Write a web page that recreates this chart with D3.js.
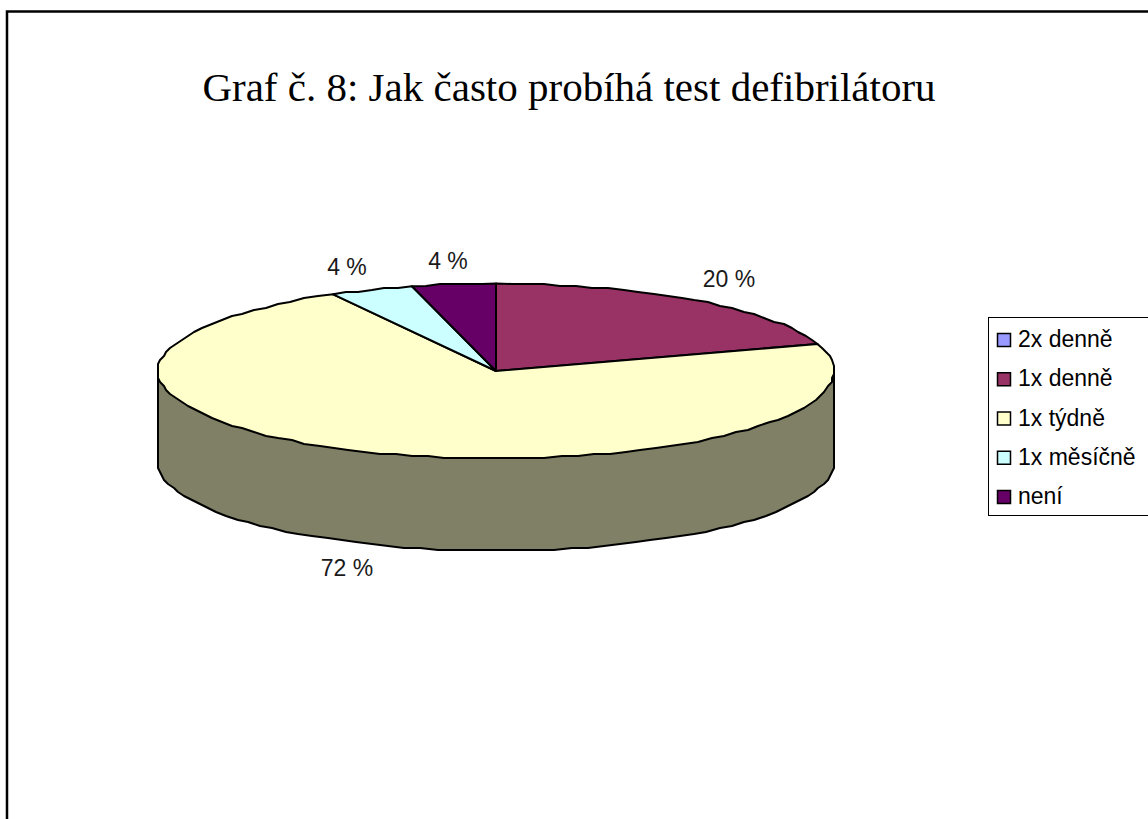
<!DOCTYPE html>
<html>
<head>
<meta charset="utf-8">
<script src="https://d3js.org/d3.v7.min.js"></script>
<style>
  html, body { margin: 0; padding: 0; background: #fff; }
  svg { display: block; }
</style>
</head>
<body>
<svg id="chart" width="1148" height="819"></svg>
<script>
const categories = ["2x denně", "1x denně", "1x týdně", "1x měsíčně", "není"];
const shares = [0, 20, 72, 4, 4];
const topColors = ["#9999FF", "#993366", "#FFFFCC", "#CCFFFF", "#660066"];
const sideColor = "#808066";
const titleText = "Graf č. 8: Jak často probíhá test defibrilátoru";

const svg = d3.select("#chart");
const cx = 496, cy = 371, rx = 338, ry = 87.5, depth = 92;

// Page frame: only the left and top edges fall inside the view
svg.append("path")
  .attr("d", "M7,819V11.5H1148")
  .attr("fill", "none").attr("stroke", "#000").attr("stroke-width", 2.5);

svg.append("text")
  .attr("x", 569).attr("y", 101)
  .attr("text-anchor", "middle")
  .attr("font-family", "'Liberation Serif', serif")
  .attr("font-size", 41)
  .attr("fill", "#000")
  .text(titleText);

const pie = d3.pie().value(d => d).sort(null);
const arcs = pie(shares);

// Pie angles run clockwise from 12 o'clock; the ellipse flattens the disc
const px = a => cx + rx * Math.sin(a);
const py = a => cy - ry * Math.cos(a);

// Outline coordinates snap to a coarse grid, giving the rim its faceted edge
const snap = v => Math.round(v / 2) * 2;
const rim = (a0, a1, step = 0.05) => {
  const n = Math.max(1, Math.ceil((a1 - a0) / step));
  return d3.range(n + 1).map(i => {
    const a = a0 + (a1 - a0) * i / n;
    const end = i === 0 || i === n;
    return [end ? px(a) : snap(px(a)), end ? py(a) : snap(py(a))];
  });
};

const line = d3.line();

// Side wall: flat fill behind the top face, then its outer outline
const lower = rim(Math.PI / 2, 3 * Math.PI / 2).map(([x, y]) => [x, y + depth]);
const outline = [[cx + rx, cy], ...lower, [cx - rx, cy]];
svg.append("path")
  .attr("d", line(outline) + "Z")
  .attr("fill", sideColor)
  .attr("stroke", "none");
svg.append("path")
  .attr("d", line(outline))
  .attr("fill", "none")
  .attr("stroke", "#000").attr("stroke-width", 2).attr("stroke-linejoin", "round");

// Top face slices
svg.append("g").selectAll("path")
  .data(arcs.filter(d => d.value > 0))
  .join("path")
  .attr("d", d => line([[cx, cy], ...rim(d.startAngle, d.endAngle)]) + "Z")
  .attr("fill", d => topColors[d.index])
  .attr("stroke", "#000").attr("stroke-width", 2).attr("stroke-linejoin", "round");

// Percentage labels placed around the disc
const labelSpots = [null, [729, 287], [347, 576], [347, 275], [448, 269]];
svg.append("g").selectAll("text")
  .data(arcs.filter(d => d.value > 0))
  .join("text")
  .attr("x", d => labelSpots[d.index][0])
  .attr("y", d => labelSpots[d.index][1])
  .attr("text-anchor", "middle")
  .attr("font-family", "'Liberation Sans', sans-serif")
  .attr("font-size", 23)
  .attr("fill", "#1a1a1a")
  .text(d => `${d.value} %`);

// Legend box, running past the right edge of the view
const legend = svg.append("g");
legend.append("rect")
  .attr("x", 988.5).attr("y", 317.5).attr("width", 170).attr("height", 198)
  .attr("fill", "#fff").attr("stroke", "#000").attr("stroke-width", 1);

const legendY = d3.scalePoint().domain(categories).range([340, 497]);
const rows = legend.selectAll("g").data(categories).join("g")
  .attr("transform", d => `translate(0,${legendY(d)})`);
rows.append("rect")
  .attr("x", 997.5).attr("y", -6.5).attr("width", 13).attr("height", 13)
  .attr("fill", (d, i) => topColors[i])
  .attr("stroke", "#000").attr("stroke-width", 1.5);
rows.append("text")
  .attr("x", 1018).attr("y", 7)
  .attr("font-family", "'Liberation Sans', sans-serif")
  .attr("font-size", 23)
  .attr("fill", "#000")
  .text(d => d);
</script>
</body>
</html>
